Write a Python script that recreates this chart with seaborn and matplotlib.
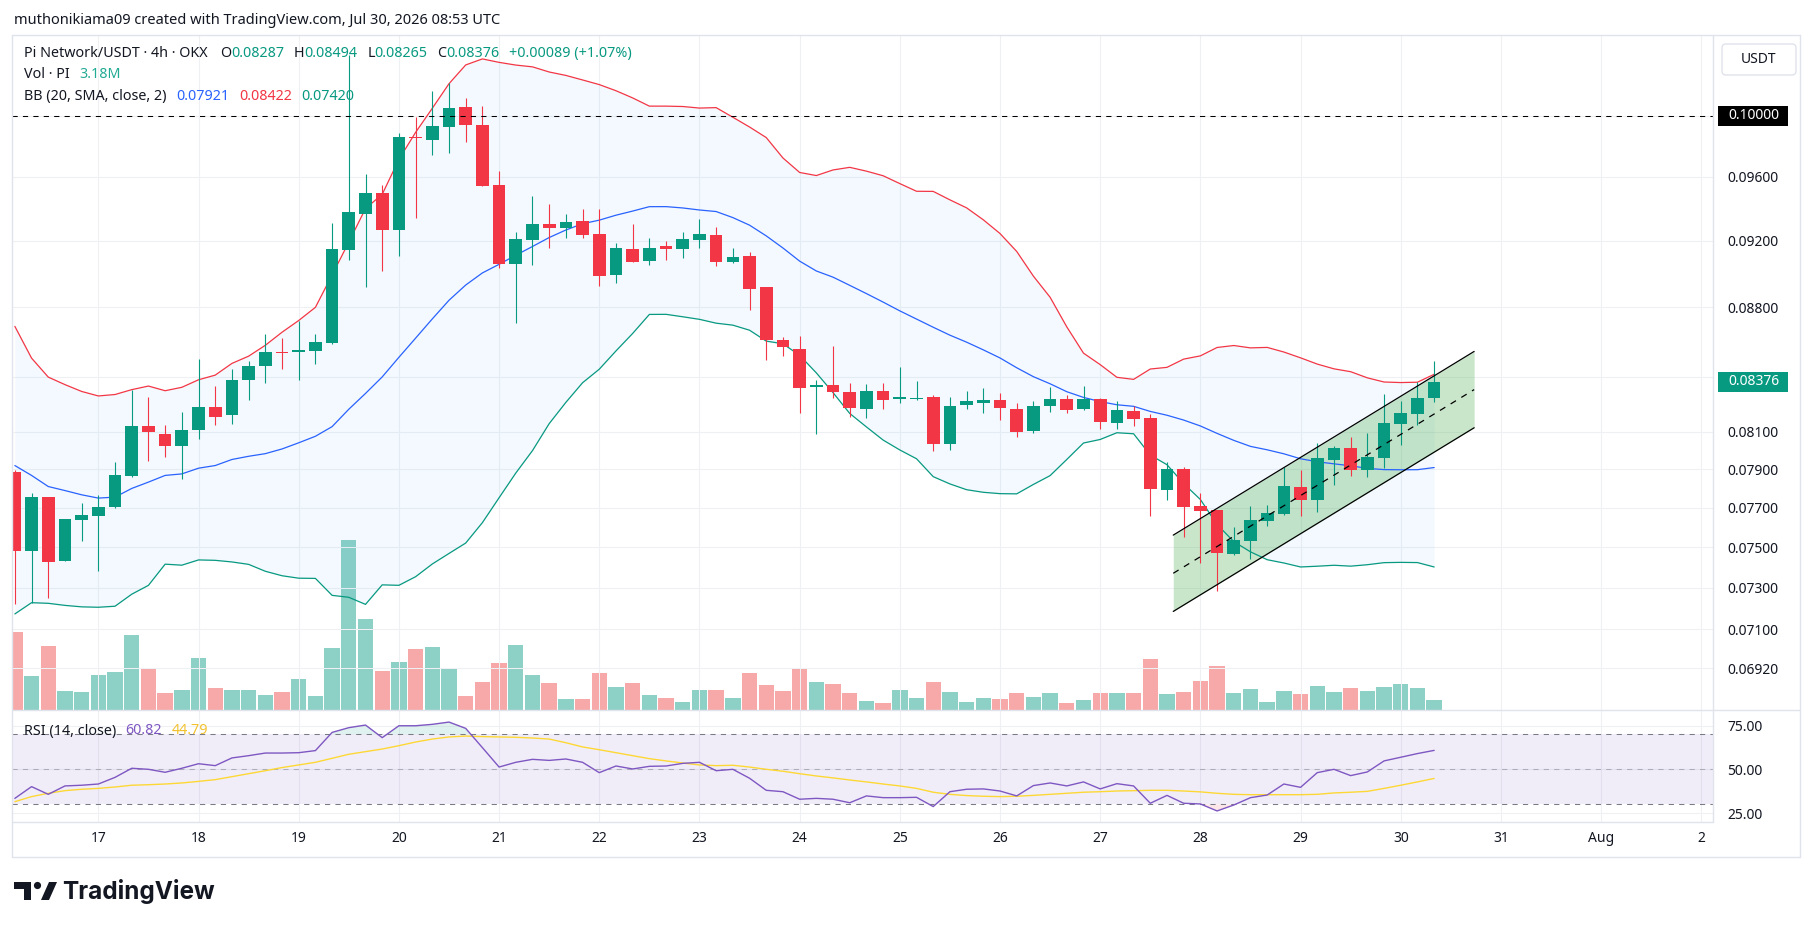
import numpy as np
import pandas as pd
import matplotlib
matplotlib.use("Agg")
import matplotlib.pyplot as plt
import matplotlib.dates as mdates
from matplotlib.patches import Rectangle, Circle, Polygon, FancyBboxPatch
from matplotlib.lines import Line2D
from matplotlib.transforms import IdentityTransform
from matplotlib.ticker import FixedLocator, FuncFormatter, NullLocator, NullFormatter
import seaborn as sns

# -----------------------------
# Data (PI/USDT, 4h candles, OKX)
# -----------------------------
first_bar = "2026-07-16 04:00"

opens = [0.07884, 0.07479, 0.07755, 0.07434, 0.07639, 0.07659, 0.07705, 0.07866, 0.08133, 0.08090,
         0.08022, 0.08108, 0.08237, 0.08191, 0.08383, 0.08463, 0.08542, 0.08542, 0.08546, 0.08594,
         0.09144, 0.09364, 0.09495, 0.09267, 0.09856, 0.09839, 0.09923, 0.10059, 0.09938, 0.09548,
         0.09060, 0.09205, 0.09303, 0.09280, 0.09320, 0.09242, 0.08994, 0.09147, 0.09078, 0.09168,
         0.09152, 0.09207, 0.09235, 0.09072, 0.09107, 0.08920, 0.08612, 0.08560, 0.08344, 0.08357,
         0.08318, 0.08224, 0.08324, 0.08281, 0.08280, 0.08288, 0.08036, 0.08248, 0.08259, 0.08274,
         0.08224, 0.08106, 0.08243, 0.08278, 0.08224, 0.08278, 0.08150, 0.08213, 0.08175, 0.07792,
         0.07901, 0.07709, 0.07688, 0.07466, 0.07533, 0.07634, 0.07668, 0.07806, 0.07741, 0.07950,
         0.08011, 0.07896, 0.07961, 0.08145, 0.08199, 0.08287]
highs = [0.07897, 0.07776, 0.07758, 0.07642, 0.07727, 0.07767, 0.07938, 0.08331, 0.08292, 0.08138,
         0.08208, 0.08504, 0.08353, 0.08448, 0.08494, 0.08648, 0.08621, 0.08720, 0.08648, 0.09308,
         0.10416, 0.09616, 0.09546, 0.09887, 0.09994, 0.10165, 0.10220, 0.10117, 0.10067, 0.09638,
         0.09252, 0.09478, 0.09428, 0.09365, 0.09397, 0.09397, 0.09186, 0.09303, 0.09217, 0.09198,
         0.09252, 0.09332, 0.09285, 0.09156, 0.09131, 0.08920, 0.08630, 0.08636, 0.08385, 0.08579,
         0.08370, 0.08362, 0.08370, 0.08460, 0.08379, 0.08299, 0.08288, 0.08324, 0.08340, 0.08312,
         0.08257, 0.08268, 0.08344, 0.08301, 0.08351, 0.08283, 0.08268, 0.08239, 0.08195, 0.07937,
         0.07910, 0.07774, 0.07688, 0.07604, 0.07709, 0.07714, 0.07910, 0.07896, 0.08038, 0.08024,
         0.08072, 0.08092, 0.08305, 0.08268, 0.08376, 0.08494]
lows = [0.07221, 0.07227, 0.07249, 0.07434, 0.07529, 0.07383, 0.07701, 0.07858, 0.07942, 0.07963,
        0.07847, 0.08064, 0.08138, 0.08141, 0.08274, 0.08367, 0.08445, 0.08383, 0.08473, 0.08590,
        0.09084, 0.08921, 0.09014, 0.09106, 0.09342, 0.09741, 0.09753, 0.09829, 0.09545, 0.09036,
        0.08707, 0.09055, 0.09158, 0.09219, 0.09219, 0.08928, 0.08946, 0.09072, 0.09055, 0.09085,
        0.09097, 0.09158, 0.09048, 0.09067, 0.08788, 0.08500, 0.08522, 0.08204, 0.08088, 0.08287,
        0.08182, 0.08177, 0.08224, 0.08255, 0.08274, 0.07999, 0.08004, 0.08224, 0.08204, 0.08164,
        0.08072, 0.08095, 0.08209, 0.08204, 0.08218, 0.08117, 0.08117, 0.08133, 0.07659, 0.07740,
        0.07551, 0.07420, 0.07284, 0.07461, 0.07444, 0.07609, 0.07665, 0.07659, 0.07680, 0.07818,
        0.07867, 0.07861, 0.07905, 0.08029, 0.08137, 0.08265]
closes = [0.07479, 0.07755, 0.07429, 0.07642, 0.07664, 0.07705, 0.07872, 0.08133, 0.08097, 0.08022,
          0.08110, 0.08237, 0.08183, 0.08387, 0.08461, 0.08544, 0.08537, 0.08556, 0.08602, 0.09148,
          0.09376, 0.09495, 0.09267, 0.09856, 0.09850, 0.09933, 0.10054, 0.09938, 0.09545, 0.09060,
          0.09209, 0.09303, 0.09280, 0.09316, 0.09238, 0.08988, 0.09154, 0.09072, 0.09154, 0.09152,
          0.09209, 0.09242, 0.09072, 0.09099, 0.08910, 0.08610, 0.08569, 0.08342, 0.08357, 0.08318,
          0.08232, 0.08324, 0.08276, 0.08285, 0.08283, 0.08036, 0.08239, 0.08268, 0.08274, 0.08232,
          0.08101, 0.08239, 0.08278, 0.08218, 0.08278, 0.08151, 0.08218, 0.08171, 0.07797, 0.07901,
          0.07704, 0.07685, 0.07473, 0.07535, 0.07637, 0.07671, 0.07813, 0.07741, 0.07958, 0.08011,
          0.07896, 0.07965, 0.08148, 0.08201, 0.08287, 0.08376]
volumes_m = [24.7, 10.6, 20.3, 6.0, 5.7, 10.9, 12.1, 23.5, 13.0, 5.5,
             6.3, 16.5, 7.0, 6.3, 6.3, 4.8, 5.7, 9.8, 4.4, 19.7,
             53.5, 28.8, 12.4, 15.2, 19.3, 20.0, 13.3, 4.4, 8.9, 14.9,
             20.6, 11.1, 8.6, 3.5, 3.5, 11.7, 7.3, 8.6, 4.8, 3.8,
             2.5, 6.3, 6.3, 3.8, 11.8, 7.9, 6.0, 13.3, 8.9, 8.3,
             5.4, 2.9, 2.2, 6.4, 3.8, 8.9, 5.7, 2.6, 3.8, 3.5,
             5.4, 4.1, 5.4, 2.2, 3.2, 5.4, 5.4, 5.4, 16.2, 5.1,
             5.7, 9.2, 14.0, 5.4, 6.7, 2.6, 6.0, 5.1, 7.6, 5.7,
             7.0, 6.0, 7.3, 8.3, 7.0, 3.18]
rsi = [33.4, 40.1, 35.7, 40.5, 40.9, 41.6, 45.4, 50.6, 50.0, 48.3,
       50.6, 53.2, 52.1, 56.5, 57.8, 59.3, 59.3, 59.5, 60.7, 71.1,
       73.8, 75.3, 68.1, 74.9, 74.9, 75.7, 77.0, 73.4, 62.4, 51.3,
       54.0, 55.7, 55.1, 55.9, 54.0, 48.1, 51.9, 50.2, 51.7, 51.9,
       53.4, 54.0, 49.2, 50.0, 44.9, 38.0, 37.2, 32.9, 33.4, 32.9,
       30.9, 34.8, 33.8, 33.8, 34.0, 28.7, 37.2, 38.6, 38.8, 37.6,
       34.8, 40.7, 42.2, 40.5, 42.8, 38.8, 41.8, 40.5, 30.6, 35.1,
       30.6, 30.2, 26.2, 29.6, 33.8, 35.3, 41.6, 39.7, 48.1, 50.0,
       46.4, 48.5, 54.8, 56.9, 59.0, 60.82]
rsi_ma = [31.5, 34.4, 36.3, 37.8, 38.6, 39.1, 39.9, 40.9, 41.2, 41.6,
          42.2, 43.1, 44.1, 45.8, 47.5, 49.2, 51.0, 52.5, 54.0, 56.3,
          58.6, 60.1, 61.6, 63.5, 65.6, 67.3, 68.5, 69.0, 68.7, 68.5,
          68.3, 67.9, 67.3, 65.2, 62.8, 61.2, 59.5, 57.8, 56.1, 54.8,
          53.6, 52.5, 52.1, 52.3, 51.3, 50.0, 48.9, 47.5, 46.2, 45.1,
          43.9, 42.8, 41.6, 40.5, 39.1, 36.9, 35.7, 35.0, 34.6, 34.4,
          34.6, 35.1, 35.7, 36.3, 36.9, 37.2, 37.6, 37.8, 38.0, 38.0,
          37.6, 37.1, 36.3, 35.7, 35.5, 35.5, 35.5, 35.5, 35.7, 36.5,
          36.9, 37.4, 39.1, 40.9, 42.8, 44.79]

# Bollinger values for the first 19 bars (their 20-bar window starts before the visible data)
bb_upper_head = [0.08690, 0.08508, 0.08401, 0.08359, 0.08321, 0.08296, 0.08304, 0.08331, 0.08351, 0.08325,
                 0.08344, 0.08386, 0.08412, 0.08478, 0.08519, 0.08581, 0.08656, 0.08724, 0.08801]
bb_mid_head = [0.07920, 0.07868, 0.07810, 0.07789, 0.07767, 0.07750, 0.07755, 0.07800, 0.07833, 0.07868,
               0.07876, 0.07906, 0.07920, 0.07952, 0.07969, 0.07983, 0.08008, 0.08041, 0.08076]
bb_lower_head = [0.07174, 0.07228, 0.07225, 0.07215, 0.07208, 0.07206, 0.07211, 0.07269, 0.07312, 0.07416,
                 0.07411, 0.07437, 0.07435, 0.07427, 0.07415, 0.07381, 0.07359, 0.07347, 0.07346]

# values printed in the legend (basis, upper, lower)
bb_legend = [0.07921, 0.08422, 0.07420]
change_text = "+0.00089 (+1.07%)"

# parallel channel drawing
channel_times = ["2026-07-27 17:30", "2026-07-30 17:35"]
channel_upper = [0.07561, 0.08546]
channel_lower = [0.07186, 0.08122]

price_ticks = [0.0692, 0.071, 0.073, 0.075, 0.077, 0.079, 0.081, 0.084, 0.088, 0.092, 0.096, 0.100]
hidden_ticks = [0.084, 0.100]
rsi_ticks = [25, 50, 75]

# -----------------------------
# Style
# -----------------------------
sns.set_theme(style="white")
plt.rcParams["font.family"] = ["Noto Sans", "DejaVu Sans"]

GREEN, RED, BLUE = "#089981", "#f23645", "#2962ff"
DARK, GRID, FRAME = "#131722", "#eef0f4", "#e0e3eb"

W, H = 1815, 931
fig = plt.figure(figsize=(W / 100, H / 100), dpi=100)
fig.patch.set_facecolor("white")


def fx(px):
    return px / W


def fy(py):
    return 1 - py / H


L, R = 11.6, 1713
TOP, SPLIT, BOT = 34.7, 710, 821.7
ax = fig.add_axes([fx(L), fy(SPLIT), fx(R) - fx(L), fy(TOP) - fy(SPLIT)])
axr = fig.add_axes([fx(L), fy(BOT), fx(R) - fx(L), fy(SPLIT) - fy(BOT)], sharex=ax)
axv = ax.twinx()
ax.set_zorder(axv.get_zorder() + 1)
ax.patch.set_visible(False)

times = pd.date_range(first_bar, periods=len(closes), freq="4h")
x = mdates.date2num(times)
step = 1 / 6

o, h, l, c = map(np.array, (opens, highs, lows, closes))
vol = np.array(volumes_m)
up = c >= o
cols = np.where(up, GREEN, RED)

# Bollinger bands (20, SMA, close, 2)
roll = pd.Series(c).rolling(20)
n_head = len(bb_mid_head)
bb_mid = np.r_[bb_mid_head, roll.mean().to_numpy()[n_head:]]
sd = roll.std(ddof=0).to_numpy()[n_head:]
bb_up = np.r_[bb_upper_head, bb_mid[n_head:] + 2 * sd]
bb_lo = np.r_[bb_lower_head, bb_mid[n_head:] - 2 * sd]

# -----------------------------
# Price pane
# -----------------------------
ax.set_yscale("log")
ax.fill_between(x, bb_lo, bb_up, color="#2196f3", alpha=0.05, lw=0, zorder=1)

ct = mdates.date2num(pd.to_datetime(channel_times))
cu, cl = np.array(channel_upper), np.array(channel_lower)
ax.fill_between(ct, cl, cu, color="#4caf50", alpha=0.3, lw=0, zorder=1.5)

sns.lineplot(x=x, y=bb_up, ax=ax, color=RED, linewidth=0.9, zorder=2)
sns.lineplot(x=x, y=bb_mid, ax=ax, color=BLUE, linewidth=0.9, zorder=2)
sns.lineplot(x=x, y=bb_lo, ax=ax, color=GREEN, linewidth=0.9, zorder=2)

ax.vlines(x, l, h, colors=cols, lw=0.8, zorder=3)
body_lo = np.minimum(o, c)
body_h = np.maximum(np.abs(c - o), (o + c) / 2 * 0.0008)
ax.bar(x, body_h, bottom=body_lo, width=step * 0.76, color=cols, lw=0, zorder=3)

for yy in (cu, cl):
    ax.plot(ct, yy, color="black", lw=0.9, zorder=4)
ax.plot(ct, np.sqrt(cu * cl), color="black", lw=0.9, dashes=(5, 5), zorder=4)
ax.axhline(0.1, color="black", lw=0.75, dashes=(5, 5), zorder=4)

axv.bar(x, vol, width=step * 0.92, color=np.where(up, "#8dd0c5", "#f7a8a8"), lw=0)
axv.set_ylim(0, vol.max() * 3.98)
axv.set_yticks([])

ax.set_xlim(x[0] - 0.195 * step, x[0] + 101.7 * step)
ax.set_ylim(0.06729, 0.10555)
ax.yaxis.tick_right()
ax.yaxis.set_major_locator(FixedLocator(price_ticks))
ax.yaxis.set_minor_locator(NullLocator())
ax.yaxis.set_minor_formatter(NullFormatter())
hidden = {round(v, 5) for v in hidden_ticks}
ax.yaxis.set_major_formatter(FuncFormatter(lambda v, p: "" if round(v, 5) in hidden else f"{v:.5f}"))
ax.tick_params(axis="y", length=0, pad=10.5, labelsize=10, labelcolor=DARK)
ax.tick_params(axis="x", length=0, labelbottom=False)
ax.set_xlabel("")
ax.set_ylabel("")
ax.set_axisbelow(True)
ax.grid(True, color=GRID, lw=0.75)

# -----------------------------
# RSI pane
# -----------------------------
rsi_a = np.array(rsi)
axr.axhspan(30, 70, color="#7e57c2", alpha=0.1, lw=0)
axr.fill_between(x, rsi_a, 70, where=rsi_a > 70, interpolate=True, color=GREEN, alpha=0.12, lw=0)
axr.fill_between(x, rsi_a, 30, where=rsi_a < 30, interpolate=True, color=RED, alpha=0.12, lw=0)
axr.axhline(70, color="#787b86", lw=0.75, dashes=(5, 5))
axr.axhline(30, color="#787b86", lw=0.75, dashes=(5, 5))
axr.axhline(50, color="#787b86", lw=0.75, dashes=(5, 5), alpha=0.5)
sns.lineplot(x=x, y=rsi_ma, ax=axr, color="#fdd835", linewidth=1.0)
sns.lineplot(x=x, y=rsi, ax=axr, color="#7e57c2", linewidth=1.0)
axr.set_ylim(20.06, 83.9)
axr.yaxis.tick_right()
axr.set_yticks(rsi_ticks)
axr.set_yticklabels([f"{v:.2f}" for v in rsi_ticks])
axr.tick_params(axis="y", length=0, pad=10.5, labelsize=10, labelcolor=DARK)
axr.xaxis.set_major_locator(mdates.DayLocator())


def day_label(v, pos):
    d = mdates.num2date(v)
    return d.strftime("%b") if d.day == 1 else str(d.day)


axr.xaxis.set_major_formatter(FuncFormatter(day_label))
axr.tick_params(axis="x", length=0, pad=7, labelsize=10, labelcolor=DARK)
axr.set_xlabel("")
axr.set_ylabel("")
axr.set_axisbelow(True)
axr.grid(True, color=GRID, lw=0.75)

for a in (ax, axr, axv):
    for s in a.spines.values():
        s.set_visible(False)

# -----------------------------
# Frame, labels and header
# -----------------------------
ident = IdentityTransform()


def hline(y, x0, x1, color=FRAME):
    fig.add_artist(Line2D([x0, x1], [H - y, H - y], transform=ident, color=color, lw=1))


def vline(xp, y0, y1, color=FRAME):
    fig.add_artist(Line2D([xp, xp], [H - y0, H - y1], transform=ident, color=color, lw=1))


hline(TOP, L, 1800)
hline(SPLIT, L, 1800)
hline(BOT, L, R)
hline(856.5, L, 1800)
vline(L, TOP, 856.5)
vline(1800, TOP, 856.5)
vline(R, TOP, BOT)


def price_box(price, text, face):
    yc = H - ax.transData.transform((x[0], price))[1]
    fig.add_artist(Rectangle((1718, H - yc - 10), 70, 20, transform=ident,
                             facecolor=face, edgecolor="none", zorder=5))
    fig.text(fx(1754), fy(yc), text, color="white", fontsize=10, fontweight="bold",
             ha="center", va="center", zorder=6)


price_box(0.1, "0.10000", "black")
price_box(closes[-1], f"{closes[-1]:.5f}", GREEN)

fig.add_artist(FancyBboxPatch((1722, H - 75), 74, 31, boxstyle="round,pad=0,rounding_size=4",
                              transform=ident, facecolor="white", edgecolor=FRAME, lw=1, zorder=5))
fig.text(fx(1759), fy(59.5), "USDT", color=DARK, fontsize=10, ha="center", va="center", zorder=6)

fig.text(fx(14), fy(20), "muthonikiama09 created with TradingView.com, Jul 30, 2026 08:53 UTC",
         color=DARK, fontsize=10.5, ha="left", va="center")

FS = 10.3


def chain(parts, x0, y0):
    t = fig.text(fx(x0), fy(y0), parts[0][0], color=parts[0][1], fontsize=FS,
                 ha="left", va="center", zorder=6)
    for txt, col, gap in parts[1:]:
        t = ax.annotate(txt, xy=(1, 0.5), xycoords=t, xytext=(gap, 0), textcoords="offset points",
                        color=col, fontsize=FS, ha="left", va="center", zorder=6)


chain([("Pi Network/USDT · 4h · OKX", DARK),
       ("O", DARK, 9), (f"{opens[-1]:.5f}", GREEN, 0),
       ("H", DARK, 7), (f"{highs[-1]:.5f}", GREEN, 0),
       ("L", DARK, 7), (f"{lows[-1]:.5f}", GREEN, 0),
       ("C", DARK, 7), (f"{closes[-1]:.5f}", GREEN, 0),
       (change_text, GREEN, 7)], 23.7, 53.4)
chain([("Vol · PI", DARK), (f"{volumes_m[-1]:.2f}M", "#22ab94", 7)], 23.7, 75)
chain([("BB (20, SMA, close, 2)", DARK), (f"{bb_legend[0]:.5f}", BLUE, 7),
       (f"{bb_legend[1]:.5f}", RED, 7), (f"{bb_legend[2]:.5f}", GREEN, 7)], 23.7, 96.8)
chain([("RSI (14, close)", DARK), (f"{rsi[-1]:.2f}", "#7e57c2", 7),
       (f"{rsi_ma[-1]:.2f}", "#f2c230", 7)], 23.7, 731)

# TradingView logo
fig.add_artist(Polygon([(14, H - 882), (31, H - 882), (31, H - 900), (24, H - 900),
                        (24, H - 889), (14, H - 889)], closed=True, transform=ident,
                       facecolor=DARK, edgecolor="none"))
fig.add_artist(Circle((37.5, H - 885.5), 3.6, transform=ident, facecolor=DARK, edgecolor="none"))
fig.add_artist(Polygon([(41, H - 900), (49, H - 882), (57, H - 882), (49, H - 900)], closed=True,
                       transform=ident, facecolor=DARK, edgecolor="none"))
fig.text(fx(62), fy(891), "TradingView", color=DARK, fontsize=17.5, fontweight="bold",
         family=["Inter", "DejaVu Sans"], ha="left", va="center")

fig.savefig("out.png", dpi=100, facecolor="white")
plt.close(fig)
